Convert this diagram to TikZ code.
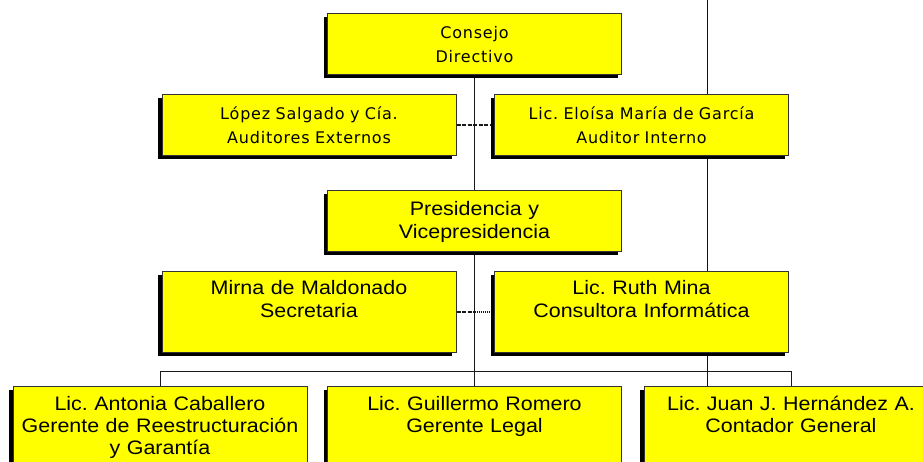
\documentclass[tikz,border=0pt]{standalone}
\usepackage{fontspec}
\usetikzlibrary{shadows}
\newfontfamily\verdfont[LetterSpace=5]{DejaVu Sans}
\newfontfamily\arialfont[FakeStretch=1.1]{Liberation Sans}
\definecolor{boxyellow}{RGB}{255,255,0}
\definecolor{guideblue}{RGB}{0,0,150}
\pgfdeclarelayer{background}
\pgfsetlayers{background,main}
\frenchspacing
\tikzset{
  orgbox/.style={draw=black!80, line width=1pt, fill=boxyellow, inner sep=0pt,
    minimum width=294pt, text width=294pt, align=center,
    drop shadow={shadow xshift=-4pt, shadow yshift=-3.5pt, fill=black, opacity=1}},
  topbox/.style={orgbox, minimum height=61pt, font=\verdfont\fontsize{16}{24.5}\selectfont},
  midbox/.style={orgbox, minimum height=61pt, font=\arialfont\fontsize{19.5}{23}\selectfont},
  lowbox/.style={orgbox, anchor=north, text height=23pt, text depth=58pt,
    font=\arialfont\fontsize{19.5}{23}\selectfont},
  botbox/.style={orgbox, anchor=north, text height=24pt, text depth=76pt,
    font=\arialfont\fontsize{19.5}{22}\selectfont},
  conn/.style={draw=black!90, line width=1pt},
  staffdash/.style={conn, line width=1.2pt, dash pattern=on 4pt off 1.5pt},
  staffdot/.style={conn, line width=1.2pt, dash pattern=on 1pt off 1pt},
  guide/.style={draw=guideblue, line width=0.9pt}
}
\begin{document}
\begin{tikzpicture}[x=1pt,y=-1pt]
\useasboundingbox (0,0) rectangle (923,462);
\clip (0,0) rectangle (923,462);

% nodes
\node[topbox] (consejo) at (474.5,44.5) {Consejo\\Directivo};
\node[topbox] (lopez) at (309,125) {López Salgado y Cía.\\Auditores Externos};
\node[topbox] (eloisa) at (641.5,125) {Lic. Eloísa María de García\\Auditor Interno};
\node[midbox] (pres) at (474.5,221.5) {Presidencia y\\Vicepresidencia};
\node[lowbox] (mirna) at (309,271) {Mirna de Maldonado\\Secretaria};
\node[lowbox] (ruth) at (641.5,271) {Lic. Ruth Mina\\Consultora Informática};
\node[botbox] (b1) at (160,386) {Lic. Antonia Caballero\\Gerente de Reestructuración\\y Garantía};
\node[botbox] (b2) at (474.5,386) {Lic. Guillermo Romero\\Gerente Legal};
\node[botbox] (b3) at (791,386) {Lic. Juan J. Hernández A.\\Contador General};

% connectors behind the boxes
\begin{pgfonlayer}{background}
  \coordinate (gtop) at (707,0);
  \coordinate (gbot) at (707,470);
  \draw[guide] (gtop) -- (gbot);
  \draw[conn] (consejo.south) -- (pres.north);
  \draw[staffdash] (lopez.east) -- (eloisa.west);
  \coordinate (mid) at (mirna.east -| pres.south);
  \draw[staffdash] (mirna.east) -- (mid);
  \draw[staffdot] (mid) -- (ruth.west);
  \draw[conn] (pres.south) -- (b2.north);
  \draw[conn] (b1.north) -- ++(0,-15) -| (b3.north);
\end{pgfonlayer}
\end{tikzpicture}
\end{document}
